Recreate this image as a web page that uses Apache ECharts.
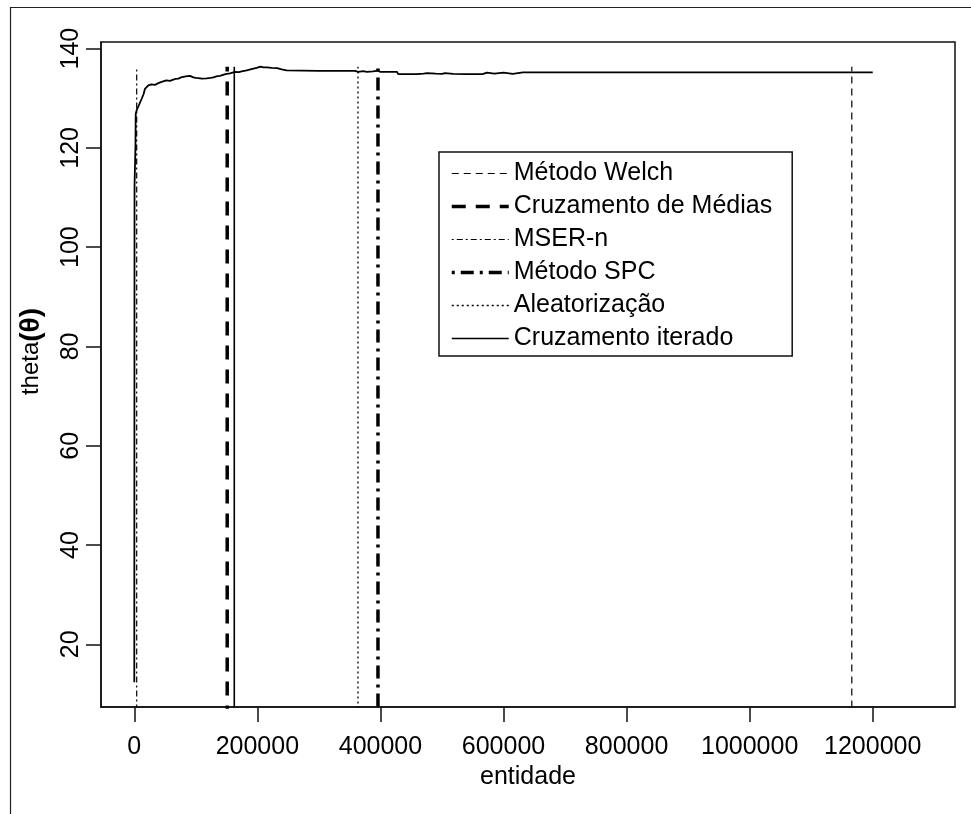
<!DOCTYPE html>
<html>
<head>
<meta charset="utf-8">
<script src="https://cdn.jsdelivr.net/npm/echarts@6/dist/echarts.min.js"></script>
<style>
  html, body { margin: 0; padding: 0; background: #fff; }
  #chart { width: 971px; height: 814px; }
</style>
</head>
<body>
<div id="chart"></div>
<script>
// Running estimate of theta over the simulated entities
const entity = [0, 400, 1700, 1900, 2300, 3900, 6500, 9300, 12000, 15000, 17400, 20200, 22800, 25500,
  28000, 30900, 33500, 36400, 40000, 44500, 47100, 52000, 58000, 63400, 67000, 71500, 76000, 79600,
  82400, 86000, 90500, 95900, 100000, 104000, 110000, 117700, 120300, 124000, 128400, 131100, 135000,
  139300, 142000, 148000, 155500, 158300, 163600, 170000, 174500, 182700, 185300, 192000, 198900,
  205000, 210000, 215200, 223300, 225900, 232000, 239500, 247700, 250300, 300000, 358700, 364000,
  372000, 378000, 388000, 396000, 400000, 427000, 429000, 458000, 461000, 470000, 476000, 490000,
  500000, 505000, 518000, 540000, 566000, 573000, 585000, 600000, 615000, 631700, 800000, 1000000, 1200000];
const theta = [12.33, 112.3, 112.3, 120.5, 126.9, 127.6, 128.3, 128.6, 129.9, 130.8, 131.9, 132.3, 132.6, 132.4,
  132.8, 132.95, 132.7, 132.6, 133.1, 133.3, 133.2, 133.6, 133.5, 133.75, 133.9, 133.95, 134.2, 134.3,
  134.25, 134.45, 134.5, 134.2, 134.1, 134.05, 133.95, 134.0, 133.95, 134.1, 134.2, 134.3, 134.45,
  134.5, 134.8, 134.85, 135.0, 135.1, 135.3, 135.25, 135.4, 135.6, 135.65, 135.9, 136.1,
  136.37, 136.2, 136.2, 136.1, 136.0, 136.05, 135.8, 135.6, 135.5, 135.5, 135.5, 135.3,
  135.45, 135.3, 135.4, 135.55, 135.3, 135.3, 134.85, 134.85, 135.1, 134.95, 135.05, 134.95,
  134.9, 135.05, 134.9, 134.85, 134.85, 135.15, 134.95, 135.15, 134.9, 135.2, 135.2, 135.2, 135.2];

// Warm-up cut-off points found by each method
const methodNames = ['Método Welch', 'Cruzamento de Médias', 'MSER-n', 'Método SPC', 'Aleatorização', 'Cruzamento iterado'];
const cutoffs = [1166000, 151000, 3900, 396000, 363500, 162500];

// Axis ticks
const xTicks = [0, 200000, 400000, 600000, 800000, 1000000, 1200000];
const yTicks = [20, 40, 60, 80, 100, 120, 140];

// Line looks for each method
const methodStyles = [
  { width: 1.2, type: [7, 5] },
  { width: 3.5, type: [14, 10] },
  { width: 1.2, type: [2, 3, 6, 3] },
  { width: 3.5, type: [3, 6, 13, 6] },
  { width: 1.3, type: [2, 3] },
  { width: 1.6, type: 'solid' }
];

const yHigh = Math.max(...theta);
const yLow = Math.min(...theta);
const yPad = 0.04 * (yHigh - yLow);

const font = '"Liberation Sans", Arial, sans-serif';

const series = [{
  name: 'theta',
  type: 'line',
  data: entity.map((e, i) => [e, theta[i]]),
  symbol: 'none',
  lineStyle: { color: '#000', width: 1.8 },
  z: 3
}];
methodNames.forEach((n, i) => {
  series.push({
    name: n,
    type: 'line',
    data: [[cutoffs[i], 0], [cutoffs[i], yHigh]],
    symbol: 'none',
    lineStyle: { color: '#000', width: methodStyles[i].width, type: methodStyles[i].type },
    z: 2
  });
});

const chart = echarts.init(document.getElementById('chart'), null, { renderer: 'canvas' });
chart.setOption({
  animation: false,
  backgroundColor: '#fff',
  textStyle: { fontFamily: font },
  graphic: [{
    type: 'rect',
    shape: { x: 10.5, y: 7.5, width: 1000, height: 900 },
    style: { fill: 'none', stroke: '#222', lineWidth: 1.2 },
    silent: true
  }],
  grid: {
    left: 101, right: 16, top: 42, bottom: 107,
    show: true, borderColor: '#111', borderWidth: 1.5, backgroundColor: 'transparent'
  },
  legend: {
    orient: 'vertical',
    left: 439, top: 152,
    padding: [9, 20, 5, 11],
    itemWidth: 57, itemHeight: 14, itemGap: 8,
    borderColor: '#111', borderWidth: 1.5, backgroundColor: '#fff',
    textStyle: { fontFamily: font, fontSize: 25, color: '#000' },
    itemStyle: { opacity: 0 },
    data: methodNames.map((n, i) => ({
      name: n,
      itemStyle: { opacity: 0 },
      lineStyle: { color: '#000', width: methodStyles[i].width, type: methodStyles[i].type }
    })),
    selectedMode: false
  },
  xAxis: {
    type: 'value',
    min: -54100, max: 1333700,
    name: 'entidade', nameLocation: 'middle', nameGap: 48,
    nameTextStyle: { fontFamily: font, fontSize: 25, color: '#000' },
    axisLine: { show: true, onZero: false, lineStyle: { color: '#111', width: 1.5 } },
    axisTick: { show: true, length: 15, lineStyle: { color: '#111', width: 1.5 }, customValues: xTicks },
    axisLabel: { fontFamily: font, fontSize: 25, color: '#000', margin: 28, customValues: xTicks,
      formatter: v => String(v) },
    splitLine: { show: false }
  },
  yAxis: {
    type: 'value',
    min: yLow - yPad, max: yHigh + yPad,
    name: '{a|theta}{b|(θ)}', nameLocation: 'middle', nameGap: 56,
    nameTextStyle: {
      padding: [0, 0, 0, 46],
      rich: {
        a: { fontFamily: font, fontSize: 24, color: '#000' },
        b: { fontFamily: font, fontSize: 28, fontWeight: 'bold', color: '#000' }
      }
    },
    axisLine: { show: true, onZero: false, lineStyle: { color: '#111', width: 1.5 } },
    axisTick: { show: true, length: 15, lineStyle: { color: '#111', width: 1.5 }, customValues: yTicks },
    axisLabel: { fontFamily: font, fontSize: 25, color: '#000', margin: 17, rotate: 90, customValues: yTicks },
    splitLine: { show: false }
  },
  series: series
});
</script>
</body>
</html>
